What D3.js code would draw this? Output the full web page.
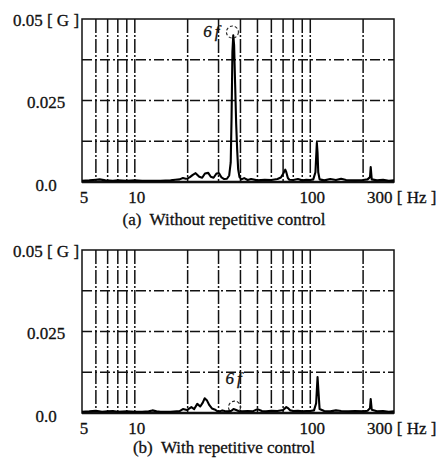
<!DOCTYPE html>
<html>
<head>
<meta charset="utf-8">
<script src="https://cdn.jsdelivr.net/npm/d3@7"></script>
<style>
    body { margin: 0; background: #fff; }
    svg { display: block; }
    text { font-family: "Liberation Serif", "Times New Roman", serif; fill: #111; stroke: #111; stroke-width: 0.3; white-space: pre; }
</style>
</head>
<body>
<div id="chart"></div>
<script>
// frequency ticks / grid (Hz) and amplitude ticks (G)
var gridFreqs = [6, 7, 8, 9, 10, 20, 30, 40, 50, 60, 70, 80, 90, 100, 200];
var freqTicks = [5, 10, 100, 300];
var freqLabels = ['5', '10', '100', '300 [ Hz ]'];
var ampGrid = [0.0125, 0.025, 0.0375];
var ampTicks = [0, 0.025, 0.05];
var ampLabels = ['0.0', '0.025', '0.05 [ G ]'];

// (a) without repetitive control
var freqA = [5, 5.5, 6, 6.3, 6.8, 7.5, 8, 9, 10, 11, 12, 14, 16, 17, 18, 18.8, 19.5, 20, 20.6,
    21.4, 22.2, 23.3, 24.2, 25.1, 26.2, 27.1, 28.1, 29.2, 30.2, 31.2, 32.3, 33.5, 34.5, 35.2,
    35.6, 36, 36.4, 36.8, 37.3, 37.8, 38.3, 38.8, 39.5, 40.5, 42, 44, 46, 50, 55, 60, 65, 68,
    70, 72, 73, 74.5, 76, 80, 85, 90, 95, 100, 104, 107, 109, 110, 111, 113, 120, 130, 140,
    150, 160, 180, 200, 212, 219, 221, 224, 240, 260, 280, 300];
var ampA = [0.0004, 0.0005, 0.0007, 0.0008, 0.0005, 0.0004, 0.0005, 0.0004, 0.0005, 0.0004,
    0.0004, 0.0004, 0.0005, 0.0007, 0.0008, 0.0012, 0.0010, 0.0011, 0.0015,
    0.0022, 0.0027, 0.0016, 0.0013, 0.0026, 0.0028, 0.0016, 0.0013, 0.0026, 0.0027, 0.0014, 0.0009, 0.0010, 0.0020, 0.0060,
    0.0200, 0.0400, 0.0450, 0.0420, 0.0300, 0.0180, 0.0100, 0.0040, 0.0015, 0.0008, 0.0012, 0.0006, 0.0009, 0.0005, 0.0007, 0.0006, 0.0009, 0.0014,
    0.0025, 0.0038, 0.0030, 0.0012, 0.0007, 0.0006, 0.0009, 0.0005, 0.0007, 0.0006, 0.0008, 0.0030, 0.0120, 0.0090, 0.0030, 0.0008, 0.0005, 0.0009, 0.0006,
    0.0010, 0.0006, 0.0005, 0.0006, 0.0008, 0.0015, 0.0046, 0.0008, 0.0005, 0.0007, 0.0004, 0.0005];

// (b) with repetitive control
var freqB = [5, 5.5, 6, 6.5, 7, 7.5, 8, 9, 10, 11, 12, 12.6, 13.3, 14, 16, 18, 18.8, 19.8, 21,
    21.8, 22.7, 23.6, 24.4, 25, 25.8, 26.6, 27.5, 28.5, 29.5, 30.5, 31.5, 32.5, 34, 35.5,
    36.5, 37.5, 39, 41, 44, 47, 50, 53, 56, 60, 65, 70, 73, 75, 77, 80, 85, 90, 95, 100, 105,
    108, 110, 111.5, 113, 120, 130, 140, 150, 165, 180, 200, 212, 219, 221, 224, 240, 260,
    280, 300];
var ampB = [0.0004, 0.0005, 0.0007, 0.0004, 0.0005, 0.0006, 0.0004, 0.0005, 0.0004, 0.0004,
    0.0005, 0.0008, 0.0005, 0.0004, 0.0004, 0.0006, 0.0012, 0.0009, 0.0018,
    0.0012, 0.0028, 0.0020, 0.0032, 0.0045, 0.0038, 0.0024, 0.0014, 0.0011, 0.0006, 0.0005, 0.0008, 0.0006, 0.0005, 0.0007,
    0.0012, 0.0010, 0.0006, 0.0005, 0.0006, 0.0005, 0.0012, 0.0006, 0.0005, 0.0007, 0.0006, 0.0009, 0.0018, 0.0014, 0.0008, 0.0006, 0.0007, 0.0005, 0.0006, 0.0006, 0.0008,
    0.0030, 0.0110, 0.0060, 0.0012, 0.0006, 0.0005, 0.0008, 0.0006, 0.0005, 0.0006, 0.0005, 0.0007, 0.0015, 0.0043, 0.0010, 0.0005, 0.0006, 0.0004, 0.0005];

var panels = [
    {freqs: freqA, amps: ampA, top: 19, caption: '(a)  Without repetitive control', captionDy: 43, mark: 36, markAmp: 0.046, labelAmp: 0.0445, labelDx: -21},
    {freqs: freqB, amps: ampB, top: 250, caption: '(b)  With repetitive control', captionDy: 40, mark: 37, markAmp: 0.0018, labelAmp: 0.0088, labelDx: -1}
];

var width = 440, height = 458;
var plotLeft = 82, plotRight = 394, plotHeight = 163;

var svg = d3.select('#chart').append('svg')
    .attr('width', width)
    .attr('height', height);

var x = d3.scaleLog().domain([5, 300]).range([plotLeft, plotRight]);

panels.forEach(function(p) {
    var y = d3.scaleLinear().domain([0, 0.05]).range([p.top + plotHeight, p.top]);
    var g = svg.append('g');

    // dash-dot grid
    g.selectAll('line.vgrid')
        .data(gridFreqs)
        .enter().append('line')
        .attr('class', 'vgrid')
        .attr('x1', function(d) { return x(d); })
        .attr('x2', function(d) { return x(d); })
        .attr('y1', y(0.05))
        .attr('y2', y(0))
        .attr('stroke', '#111')
        .attr('stroke-width', 1.5)
        .attr('stroke-dasharray', '14,2,2,2');

    g.selectAll('line.hgrid')
        .data(ampGrid)
        .enter().append('line')
        .attr('class', 'hgrid')
        .attr('x1', x(5))
        .attr('x2', x(300))
        .attr('y1', function(d) { return y(d); })
        .attr('y2', function(d) { return y(d); })
        .attr('stroke', '#111')
        .attr('stroke-width', 1.4)
        .attr('stroke-dasharray', '10,3,2,3');

    // frame
    g.append('rect')
        .attr('x', x(5))
        .attr('y', y(0.05))
        .attr('width', x(300) - x(5))
        .attr('height', y(0) - y(0.05))
        .attr('fill', 'none')
        .attr('stroke', '#111')
        .attr('stroke-width', 1.5);

    g.append('line')
        .attr('x1', x(5))
        .attr('x2', x(300))
        .attr('y1', y(0))
        .attr('y2', y(0))
        .attr('stroke', '#111')
        .attr('stroke-width', 2.4);

    // spectrum
    var pts = p.freqs.map(function(f, i) { return [f, p.amps[i]]; });
    g.append('path')
        .datum(pts)
        .attr('fill', 'none')
        .attr('stroke', '#000')
        .attr('stroke-width', 2.1)
        .attr('stroke-linejoin', 'round')
        .attr('d', d3.line()
            .x(function(d) { return x(d[0]); })
            .y(function(d) { return y(d[1]); }));

    // y tick labels
    g.selectAll('text.ylab')
        .data(ampTicks)
        .enter().append('text')
        .attr('class', 'ylab')
        .attr('x', 46)
        .attr('y', function(d) { return y(d) + (d === 0 ? 9 : 7); })
        .attr('text-anchor', 'middle')
        .attr('font-size', 17)
        .text(function(d, i) { return ampLabels[i]; });

    // x tick labels
    g.selectAll('text.xlab')
        .data(freqTicks)
        .enter().append('text')
        .attr('class', 'xlab')
        .attr('x', function(d, i) { return i === 3 ? x(d) - 27 : x(d) + 2; })
        .attr('y', y(0) + 21)
        .attr('text-anchor', function(d, i) { return i === 3 ? 'start' : 'middle'; })
        .attr('font-size', 17)
        .text(function(d, i) { return freqLabels[i]; });

    // caption
    g.append('text')
        .attr('x', 224)
        .attr('y', y(0) + p.captionDy)
        .attr('text-anchor', 'middle')
        .attr('font-size', 17)
        .text(p.caption);

    // 6f marker
    g.append('circle')
        .attr('cx', x(p.mark))
        .attr('cy', y(p.markAmp))
        .attr('r', 6)
        .attr('fill', 'none')
        .attr('stroke', '#222')
        .attr('stroke-width', 1.1)
        .attr('stroke-dasharray', '3,2');

    var lab = g.append('text')
        .attr('x', x(p.mark) + p.labelDx)
        .attr('y', y(p.labelAmp))
        .attr('text-anchor', 'middle')
        .attr('font-size', 17)
        .attr('font-style', 'italic');
    lab.append('tspan').text('6');
    lab.append('tspan').attr('dx', 3).text('f');
});
</script>
</body>
</html>
